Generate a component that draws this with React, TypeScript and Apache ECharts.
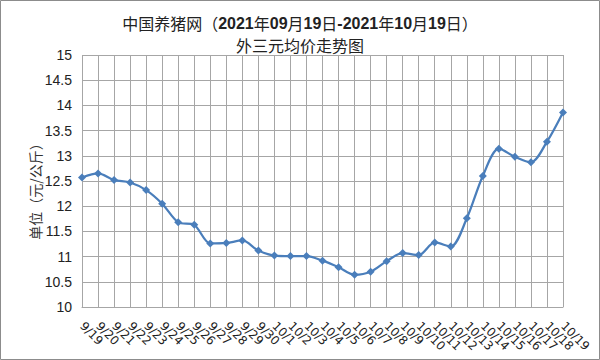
import React, { useEffect, useRef } from "react";
import * as echarts from "echarts";

const categories = [
  "9/19", "9/20", "9/21", "9/22", "9/23", "9/24", "9/25", "9/26", "9/27", "9/28", "9/29", "9/30",
  "10/1", "10/2", "10/3", "10/4", "10/5", "10/6", "10/7", "10/8", "10/9", "10/10", "10/11", "10/12",
  "10/13", "10/14", "10/15", "10/16", "10/17", "10/18", "10/19",
];
const prices = [
  12.57, 12.65, 12.52, 12.47, 12.32, 12.05, 11.68, 11.63, 11.26, 11.27, 11.32, 11.12,
  11.02, 11.01, 11.01, 10.92, 10.79, 10.64, 10.70, 10.91, 11.07, 11.03, 11.28, 11.20,
  11.76, 12.60, 13.14, 12.98, 12.87, 13.28, 13.86,
];
const titleText = "中国养猪网（{b|2021}年{b|09}月{b|19}日{b|-2021}年{b|10}月{b|19}日）";
const subtitleText = "外三元均价走势图";
const yAxisName = "单位（元/公斤）";

export default function App() {
  const ref = useRef<HTMLDivElement>(null);
  useEffect(() => {
    if (!ref.current) return;
    const chart = echarts.init(ref.current, null, { renderer: "svg" });
    const font = "'Noto Sans CJK SC', 'Noto Sans', sans-serif";
    chart.setOption({
      animation: false,
      backgroundColor: "#fff",
      textStyle: { fontFamily: font },
      title: [
        {
          text: titleText,
          left: "center",
          top: 10,
          textStyle: {
            fontSize: 16,
            fontWeight: "normal",
            color: "#222",
            fontFamily: font,
            rich: {
              b: {
                fontSize: 16,
                fontWeight: "bold",
                color: "#222",
                fontFamily: "'Liberation Sans', 'Noto Sans', sans-serif",
              },
            },
          },
        },
        {
          text: subtitleText,
          left: "center",
          top: 32,
          textStyle: { fontSize: 16, fontWeight: "normal", color: "#222", fontFamily: font },
        },
      ],
      graphic: [
        {
          type: "rect",
          shape: { x: 0.5, y: 0.5, width: 599, height: 359 },
          style: { fill: "none", stroke: "#8c8c8c", lineWidth: 1 },
          silent: true,
        },
      ],
      grid: { left: 82, right: 37, top: 55, bottom: 53 },
      xAxis: {
        type: "category",
        data: categories,
        boundaryGap: false,
        axisLine: { show: true, lineStyle: { color: "#a6a6a6" } },
        axisTick: { show: false },
        splitLine: { show: true, lineStyle: { color: "#a6a6a6", width: 1 } },
        axisLabel: {
          interval: 0,
          rotate: -45,
          fontSize: 12,
          color: "#222",
          margin: 17,
          fontFamily: "'DejaVu Sans', sans-serif",
        },
      },
      yAxis: {
        type: "value",
        min: 10,
        max: 15,
        interval: 0.5,
        name: yAxisName,
        nameLocation: "middle",
        nameGap: 40,
        nameMoveOverlap: false,
        nameRotate: 90,
        nameTextStyle: { fontSize: 14, color: "#333", fontFamily: font, padding: [0, 14, 0, 0] },
        axisLine: { show: false },
        axisTick: { show: false },
        splitLine: { show: true, lineStyle: { color: "#a6a6a6", width: 1 } },
        axisLabel: {
          fontSize: 14,
          color: "#222",
          margin: 10,
          fontFamily: "'Liberation Sans', sans-serif",
        },
      },
      series: [
        {
          type: "line",
          data: prices,
          smooth: 0.3,
          symbol: "diamond",
          symbolSize: 8,
          lineStyle: { color: "#4a7ebb", width: 2.25 },
          itemStyle: { color: "#4a7ebb" },
        },
      ],
    });
    return () => chart.dispose();
  }, []);
  return (
    <div
      ref={ref}
      style={{ position: "fixed", left: 0, top: 0, width: 600, height: 360 }}
    />
  );
}
